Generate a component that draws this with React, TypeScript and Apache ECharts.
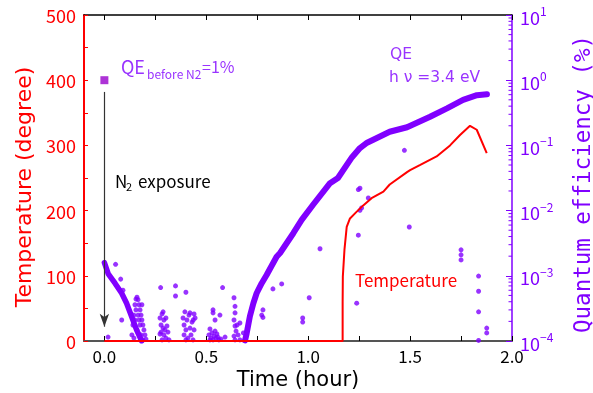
import React, { useEffect, useRef } from "react";
import * as echarts from "echarts";

// ---------- data ----------
const timeTickValues = [0, 0.25, 0.5, 0.75, 1.0, 1.25, 1.5, 1.75, 2.0];
const timeLabelValues = [0, 0.5, 1.0, 1.5, 2.0];
const qeDecades = [-4, -3, -2, -1, 0];
const qeMantissas = [2, 3, 4, 5, 6, 7, 8, 9];

// temperature [hour, degree]
const temperature = [
  [0, 0], [1.169, 0], [1.169, 60], [1.17, 99], [1.178, 140], [1.189, 175],
  [1.205, 188], [1.237, 198], [1.27, 208], [1.311, 219], [1.369, 229],
  [1.4, 240], [1.485, 259], [1.5, 262], [1.55, 270], [1.63, 283],
  [1.696, 300], [1.745, 316], [1.794, 330], [1.827, 324], [1.876, 288],
];

// QE decay just after N2 exposure [hour, QE %]
const qeDecay = [
  [0.0, 1.59e-3], [0.019, 1.07e-3], [0.052, 7.7e-4], [0.085, 5.4e-4],
  [0.109, 3.8e-4], [0.134, 2.36e-4], [0.158, 1.48e-4], [0.183, 1.0e-4],
];

// QE recovery during heating [hour, QE %]
const qeRecovery = [
  [0.69, 1.02e-4], [0.698, 1.3e-4], [0.714, 2.4e-4], [0.731, 3.8e-4],
  [0.747, 5.4e-4], [0.772, 7.7e-4], [0.796, 1.03e-3], [0.845, 1.96e-3],
  [0.862, 2.24e-3], [0.927, 4.5e-3], [0.968, 7.2e-3], [1.024, 0.0123],
  [1.107, 0.0263], [1.146, 0.0316], [1.215, 0.066], [1.254, 0.091],
  [1.289, 0.11], [1.4, 0.162], [1.485, 0.19], [1.598, 0.275],
  [1.681, 0.37], [1.76, 0.5], [1.828, 0.59], [1.877, 0.61],
];

// scattered QE points [hour, QE %]
const qeScatter = [
  // cluster ~0.17 h
  [0.135, 1.24e-4], [0.14, 1.76e-4], [0.145, 2.5e-4], [0.15, 3.6e-4], [0.155, 4.4e-4],
  [0.16, 4.7e-4], [0.165, 4.3e-4], [0.17, 3.6e-4], [0.175, 3.0e-4], [0.18, 2.5e-4],
  [0.184, 2.1e-4], [0.189, 1.76e-4], [0.194, 1.48e-4], [0.199, 1.24e-4], [0.204, 1.07e-4],
  [0.15, 2.1e-4], [0.16, 1.48e-4], [0.17, 2.1e-4], [0.18, 1.24e-4], [0.189, 1.04e-4],
  [0.155, 3.0e-4], [0.165, 2.5e-4], [0.175, 1.76e-4], [0.184, 3.6e-4], [0.145, 1.11e-4],
  // cluster ~0.29 h
  [0.273, 2.25e-4], [0.278, 1.76e-4], [0.283, 2.6e-4], [0.288, 2.8e-4], [0.292, 2.1e-4],
  [0.297, 1.48e-4], [0.302, 1.11e-4], [0.307, 1.7e-4], [0.273, 1.28e-4], [0.283, 1.04e-4],
  [0.292, 1.24e-4], [0.312, 1.37e-4], [0.317, 1.04e-4], [0.288, 1.58e-4], [0.278, 1.37e-4],
  [0.302, 2.25e-4],
  // cluster ~0.41 h
  [0.386, 2.25e-4], [0.391, 1.76e-4], [0.395, 2.8e-4], [0.4, 1.48e-4], [0.405, 2.1e-4],
  [0.41, 1.11e-4], [0.415, 2.5e-4], [0.42, 1.58e-4], [0.425, 1.24e-4], [0.43, 1.95e-4],
  [0.435, 1.04e-4], [0.44, 1.48e-4], [0.445, 2.25e-4], [0.4, 1.04e-4], [0.391, 1.24e-4],
  [0.42, 2.7e-4],
  // cluster ~0.54 h
  [0.513, 1.24e-4], [0.523, 1.11e-4], [0.528, 1.33e-4], [0.533, 1.04e-4], [0.538, 1.19e-4],
  [0.548, 1.11e-4], [0.552, 1.28e-4], [0.562, 1.04e-4], [0.518, 1.04e-4], [0.543, 1.42e-4],
  [0.557, 1.15e-4], [0.572, 1.07e-4], [0.518, 1.53e-4], [0.533, 3.0e-4], [0.533, 2.7e-4],
  [0.567, 2.5e-4], [0.543, 2.1e-4],
  // cluster ~0.64 h
  [0.636, 4.6e-4], [0.641, 3.4e-4], [0.641, 2.7e-4], [0.636, 2.1e-4], [0.641, 1.7e-4],
  [0.646, 1.42e-4], [0.636, 1.19e-4], [0.641, 1.04e-4], [0.656, 1.24e-4], [0.665, 1.04e-4],
  [0.651, 1.76e-4],
  // isolated points
  [0.018, 1.15e-4], [0.055, 1.5e-3], [0.08, 8.9e-4], [0.085, 2.1e-4], [0.091, 6.0e-4],
  [0.276, 6.6e-4], [0.349, 7.0e-4], [0.349, 4.9e-4], [0.4, 5.6e-4], [0.44, 2.6e-4],
  [0.436, 2.1e-4], [0.58, 6.6e-4], [0.592, 1.15e-4], [0.665, 1.89e-4], [0.682, 1.33e-4],
  [0.772, 2.5e-4], [0.778, 3.0e-4], [0.778, 2.3e-4], [0.827, 6.3e-4], [0.87, 7.5e-4],
  [0.973, 2.25e-4], [0.973, 1.95e-4], [1.005, 4.6e-4], [1.058, 2.6e-3], [1.238, 3.8e-4],
  [1.246, 4.2e-3], [1.246, 0.021], [1.254, 0.022], [1.295, 0.0156], [1.262, 0.011],
  [1.254, 0.0101], [1.472, 0.084], [1.496, 5.6e-3], [1.75, 2.5e-3], [1.75, 2.1e-3],
  [1.75, 1.75e-3], [1.836, 9.9e-4], [1.836, 5.8e-4], [1.836, 2.8e-4], [1.876, 1.58e-4],
  [1.876, 1.33e-4], [1.836, 1.02e-4],
];

// QE before N2 exposure
const qeBeforeN2 = [[0, 1.0]];
// N2 exposure arrow [hour, degree]
const arrowStart = [0, 382];
const arrowEnd = [0, 22];

const RED = "#ff0000";
const PURPLE = "#8000ff";
const TEXT_PURPLE = "#9933ff";
const FONT = "'Noto Sans CJK JP', 'Noto Sans', sans-serif";
const WIDE = "'DejaVu Sans', sans-serif";

export default function App() {
  const ref = useRef<HTMLDivElement>(null);

  useEffect(() => {
    if (!ref.current) return;
    const chart = echarts.init(ref.current, null, { renderer: "svg" });

    const minorTicks: number[][] = [];
    qeDecades.forEach((d) =>
      qeMantissas.forEach((m) => minorTicks.push([2.0, m * Math.pow(10, d)]))
    );

    const option: any = {
      animation: false,
      textStyle: { fontFamily: FONT },
      grid: { left: 84, right: 81, top: 15, bottom: 52, outerBoundsMode: "none", containLabel: false },
      xAxis: [
        {
          type: "value",
          min: -0.1,
          max: 2.0,
          position: "bottom",
          name: "Time (hour)",
          nameLocation: "middle",
          nameGap: 26,
          nameTextStyle: { fontSize: 21, color: "#000", fontFamily: WIDE, lineHeight: 21 },
          axisLine: { show: true, onZero: false, lineStyle: { color: "#555", width: 2 } },
          axisTick: {
            inside: true,
            length: 5,
            customValues: timeTickValues,
            lineStyle: { color: "#000" },
          },
          axisLabel: {
            customValues: timeLabelValues,
            formatter: (v: number) => v.toFixed(1),
            fontSize: 17,
            lineHeight: 17,
            color: "#000",
            margin: 6,
            fontFamily: FONT,
          },
          splitLine: { show: false },
        },
        {
          type: "value",
          min: -0.1,
          max: 2.0,
          position: "top",
          axisLine: { show: true, onZero: false, lineStyle: { color: "#000", width: 1.5 } },
          axisTick: {
            inside: true,
            length: 5,
            customValues: timeTickValues,
            lineStyle: { color: "#000" },
          },
          axisLabel: { show: false },
          splitLine: { show: false },
        },
      ],
      yAxis: [
        {
          type: "value",
          min: 0,
          max: 500,
          interval: 100,
          position: "left",
          name: "Temperature (degree)",
          nameLocation: "middle",
          nameRotate: 90,
          nameGap: 50,
          nameTextStyle: { fontSize: 22, color: RED, fontFamily: WIDE, padding: [0, 18, 0, 0] },
          axisLine: { show: true, onZero: false, lineStyle: { color: RED, width: 2 } },
          axisTick: { inside: true, length: 4, lineStyle: { color: RED } },
          minorTick: { show: true, splitNumber: 2, length: 4, lineStyle: { color: RED } },
          axisLabel: { color: RED, fontSize: 18, margin: 8, fontFamily: FONT },
          splitLine: { show: false },
        },
        {
          type: "log",
          logBase: 10,
          min: 1e-4,
          max: 10,
          interval: 1,
          position: "right",
          name: "Quantum efficiency (%)",
          nameLocation: "middle",
          nameRotate: 90,
          nameGap: 58,
          nameTextStyle: {
            fontSize: 22.5,
            color: PURPLE,
            fontFamily: "'DejaVu Sans Mono', monospace",
            padding: [0, 12, 0, 0],
          },
          axisLine: { show: true, onZero: false, lineStyle: { color: PURPLE, width: 1.5 } },
          axisTick: { inside: true, length: 6, lineStyle: { color: PURPLE } },
          axisLabel: {
            margin: 8,
            color: PURPLE,
            formatter: (v: number) => {
              const e = Math.round(Math.log10(v));
              return "{b|10}{s|" + (e < 0 ? "\u2212" + -e : String(e)) + "}";
            },
            rich: {
              b: { fontSize: 18, lineHeight: 21, verticalAlign: "bottom", color: PURPLE, fontFamily: FONT },
              s: { fontSize: 12, lineHeight: 21, verticalAlign: "top", color: PURPLE, fontFamily: FONT },
            },
          },
          splitLine: { show: false },
        },
      ],
      series: [
        {
          name: "Temperature",
          type: "line",
          xAxisIndex: 0,
          yAxisIndex: 0,
          data: temperature,
          showSymbol: false,
          lineStyle: { color: RED, width: 2 },
          z: 4,
          markLine: {
            silent: true,
            symbol: ["none", "arrow"],
            symbolSize: [7, 13],
            label: { show: false },
            lineStyle: { color: "#333", width: 1.2, type: "solid" },
            data: [[{ coord: arrowStart }, { coord: arrowEnd }]],
          },
        },
        {
          name: "QE decay",
          type: "line",
          xAxisIndex: 0,
          yAxisIndex: 1,
          data: qeDecay,
          showSymbol: false,
          lineStyle: { color: PURPLE, width: 5.5, cap: "round", join: "round" },
          z: 3,
        },
        {
          name: "QE",
          type: "line",
          xAxisIndex: 0,
          yAxisIndex: 1,
          data: qeRecovery,
          showSymbol: false,
          lineStyle: { color: PURPLE, width: 6, cap: "round", join: "round" },
          z: 3,
        },
        {
          name: "QE points",
          type: "scatter",
          xAxisIndex: 0,
          yAxisIndex: 1,
          data: qeScatter,
          symbolSize: 5,
          itemStyle: { color: PURPLE },
          z: 3,
        },
        {
          name: "QE before N2",
          type: "scatter",
          xAxisIndex: 0,
          yAxisIndex: 1,
          data: qeBeforeN2,
          symbol: "rect",
          symbolSize: 8,
          itemStyle: { color: "#9900cc" },
          z: 5,
        },
        {
          name: "log minor ticks",
          type: "custom",
          xAxisIndex: 0,
          yAxisIndex: 1,
          data: minorTicks,
          silent: true,
          clip: false,
          renderItem: (params: any, api: any) => {
            const p = api.coord([api.value(0), api.value(1)]);
            return {
              type: "line",
              shape: { x1: p[0] - 3.5, y1: p[1], x2: p[0], y2: p[1] },
              style: { stroke: PURPLE, lineWidth: 1 },
            };
          },
          z: 6,
        },
      ],
      graphic: [
        { type: "text", x: 121, y: 66, style: { text: "QE", fontSize: 18, fontFamily: FONT, fill: TEXT_PURPLE, verticalAlign: "middle" } },
        { type: "text", x: 147, y: 73.5, style: { text: "before N2", fontSize: 12, fontFamily: FONT, fill: TEXT_PURPLE, verticalAlign: "middle" } },
        { type: "text", x: 202, y: 66, style: { text: "=1%", fontSize: 16, fontFamily: FONT, fill: TEXT_PURPLE, verticalAlign: "middle" } },
        { type: "text", x: 115, y: 180, style: { text: "N", fontSize: 17, fontFamily: FONT, fill: "#000", verticalAlign: "middle" } },
        { type: "text", x: 126, y: 186, style: { text: "2", fontSize: 11, fontFamily: FONT, fill: "#000", verticalAlign: "middle" } },
        { type: "text", x: 138, y: 180, style: { text: "exposure", fontSize: 17, fontFamily: FONT, fill: "#000", verticalAlign: "middle" } },
        { type: "text", x: 390, y: 54, style: { text: "QE", fontSize: 15.5, fontFamily: WIDE, fill: TEXT_PURPLE, verticalAlign: "middle" } },
        { type: "text", x: 389, y: 77, style: { text: "h \u03bd =3.4 eV", fontSize: 15.5, fontFamily: WIDE, fill: TEXT_PURPLE, verticalAlign: "middle" } },
        { type: "text", x: 355, y: 279, style: { text: "Temperature", fontSize: 17, fontFamily: FONT, fill: RED, verticalAlign: "middle" } },
      ],
    };

    chart.setOption(option);
    return () => chart.dispose();
  }, []);

  return (
    <div
      ref={ref}
      style={{ position: "fixed", left: 0, top: 0, width: 593, height: 393 }}
    />
  );
}
